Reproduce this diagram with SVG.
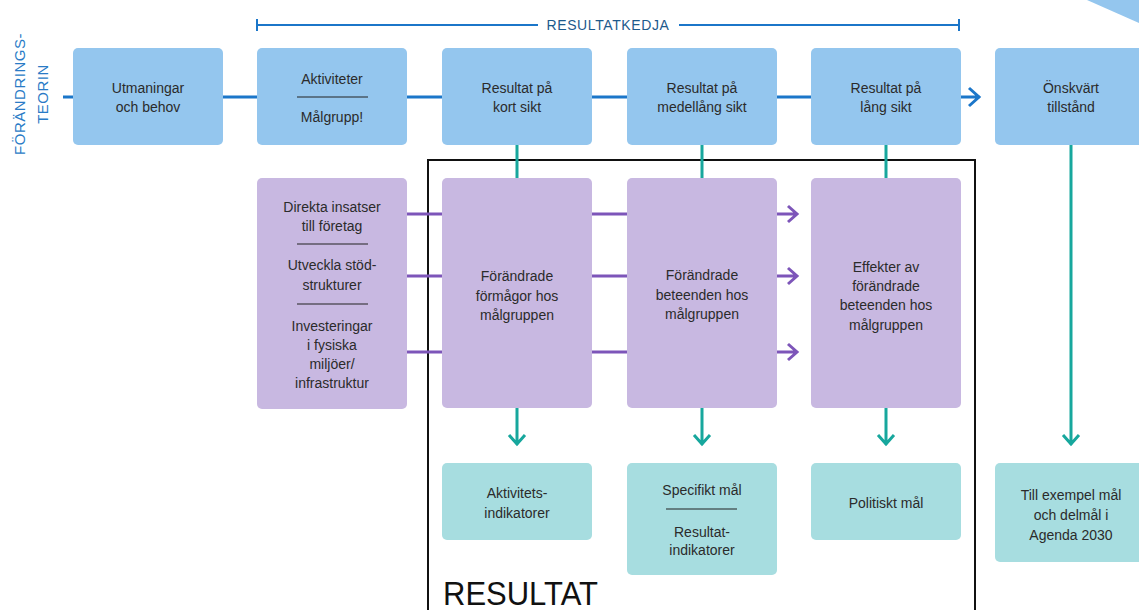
<svg xmlns="http://www.w3.org/2000/svg" width="1139" height="610" viewBox="0 0 1139 610">
<style>
text{font-family:"Liberation Sans",Arial,sans-serif;font-size:14px;fill:#2b2b2b;text-anchor:middle}
.blue{fill:#94c6ee}
.purp{fill:#c8b8e1}
.teal{fill:#a7dde0}
.bl{stroke:#1b76c9;stroke-width:3;fill:none}
.pl{stroke:#7d55b9;stroke-width:3;fill:none}
.tl{stroke:#17a79d;stroke-width:3;fill:none}
.sep{stroke:#222;stroke-width:1.2}
.vt{fill:#2a7bc6;font-size:15px;letter-spacing:0.5px}
</style>
<rect width="1139" height="610" fill="#fff"/>
<polygon points="1087,0 1139,0 1139,23" fill="#94c6ee"/>
<g id="side-label">
<text class="vt" transform="translate(25,94) rotate(-90)">FÖRÄNDRINGS-</text>
<text class="vt" transform="translate(48,94) rotate(-90)">TEORIN</text>
</g>
<g id="bracket">
<path d="M257,25H959M257,19V31M959,19V31" stroke="#1b76c9" stroke-width="2" fill="none"/>
<rect x="538" y="14" width="141" height="22" fill="#fff"/>
<text x="608" y="30" style="fill:#1d5a8c;letter-spacing:0.6px">RESULTATKEDJA</text>
</g>
<g id="frame">
<rect x="428" y="160" width="547" height="460" fill="none" stroke="#111" stroke-width="2"/>
<text x="443" y="605" style="font-size:33px;text-anchor:start;fill:#111" textLength="155" lengthAdjust="spacingAndGlyphs">RESULTAT</text>
</g>
<g id="connectors">
<path class="bl" d="M63,97H73M223,97H257M407,97H442M592,97H627M777,97H811M961,97H980M969,88L979,97L969,106"/>
<path class="pl" d="M407,214H442M407,276H442M407,352H442M592,214H627M592,276H627M592,352H627"/>
<path class="pl" d="M777,214H797M788,206L797,214L788,222M777,276H797M788,268L797,276L788,284M777,352H797M788,344L797,352L788,360"/>
<path class="tl" d="M517,145V178M702,145V178M886,145V178M1071,145V445M517,408V445M702,408V445M886,408V445M509,435L517,444L525,435M694,435L702,444L710,435M878,435L886,444L894,435M1063,435L1071,444L1079,435"/>
</g>
<g id="n-utmaningar"><rect class="blue" x="73" y="48" width="150" height="97" rx="5"/><text x="148" y="93">Utmaningar</text><text x="148" y="112">och behov</text></g>
<g id="n-aktiviteter"><rect class="blue" x="257" y="48" width="150" height="97" rx="5"/><text x="332" y="84">Aktiviteter</text><line class="sep" x1="297" y1="97" x2="368" y2="97"/><text x="332" y="122">Målgrupp!</text></g>
<g id="n-kort"><rect class="blue" x="442" y="48" width="150" height="97" rx="5"/><text x="517" y="93">Resultat på</text><text x="517" y="112">kort sikt</text></g>
<g id="n-medel"><rect class="blue" x="627" y="48" width="150" height="97" rx="5"/><text x="702" y="93">Resultat på</text><text x="702" y="112">medellång sikt</text></g>
<g id="n-lang"><rect class="blue" x="811" y="48" width="150" height="97" rx="5"/><text x="886" y="93">Resultat på</text><text x="886" y="112">lång sikt</text></g>
<g id="n-onskvart"><rect class="blue" x="995" y="48" width="160" height="97" rx="5"/><text x="1071" y="93">Önskvärt</text><text x="1071" y="112">tillstånd</text></g>
<g id="n-insatser"><rect class="purp" x="257" y="178" width="150" height="231" rx="5"/>
<text x="332" y="212">Direkta insatser</text><text x="332" y="231">till företag</text>
<line class="sep" x1="297" y1="244" x2="368" y2="244"/>
<text x="332" y="270">Utveckla stöd-</text><text x="332" y="290">strukturer</text>
<line class="sep" x1="297" y1="304" x2="368" y2="304"/>
<text x="332" y="331">Investeringar</text><text x="332" y="350">i fysiska</text><text x="332" y="369">miljöer/</text><text x="332" y="388">infrastruktur</text></g>
<g id="n-formagor"><rect class="purp" x="442" y="178" width="150" height="230" rx="5"/><text x="517" y="281">Förändrade</text><text x="517" y="301">förmågor hos</text><text x="517" y="320">målgruppen</text></g>
<g id="n-beteenden"><rect class="purp" x="627" y="178" width="150" height="230" rx="5"/><text x="702" y="280">Förändrade</text><text x="702" y="300">beteenden hos</text><text x="702" y="319">målgruppen</text></g>
<g id="n-effekter"><rect class="purp" x="811" y="178" width="150" height="230" rx="5"/><text x="886" y="272">Effekter av</text><text x="886" y="291">förändrade</text><text x="886" y="310">beteenden hos</text><text x="886" y="330">målgruppen</text></g>
<g id="n-aktind"><rect class="teal" x="442" y="463" width="150" height="77" rx="5"/><text x="517" y="498">Aktivitets-</text><text x="517" y="518">indikatorer</text></g>
<g id="n-specifikt"><rect class="teal" x="627" y="463" width="150" height="112" rx="5"/><text x="702" y="495">Specifikt mål</text><line class="sep" x1="666" y1="509" x2="737" y2="509"/><text x="702" y="537">Resultat-</text><text x="702" y="555">indikatorer</text></g>
<g id="n-politiskt"><rect class="teal" x="811" y="463" width="150" height="77" rx="5"/><text x="886" y="508">Politiskt mål</text></g>
<g id="n-agenda"><rect class="teal" x="995" y="463" width="160" height="99" rx="5"/><text x="1071" y="500">Till exempel mål</text><text x="1071" y="520">och delmål i</text><text x="1071" y="540">Agenda 2030</text></g>
</svg>
